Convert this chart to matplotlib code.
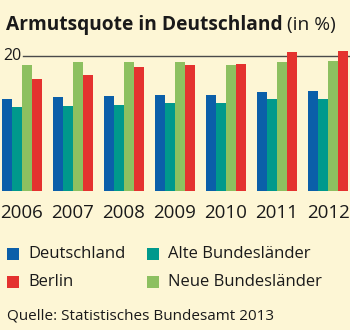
import numpy as np
import matplotlib.pyplot as plt
from matplotlib.patches import Rectangle

plt.rcParams['font.family'] = ['Open Sans', 'DejaVu Sans']

years = ['2006', '2007', '2008', '2009', '2010', '2011', '2012']
deutschland = [13.6, 13.9, 14.1, 14.2, 14.2, 14.7, 14.8]
alte = [12.4, 12.6, 12.7, 13.0, 13.0, 13.6, 13.6]
neue = [18.7, 19.1, 19.1, 19.1, 18.6, 19.1, 19.3]
berlin = [16.6, 17.1, 18.3, 18.6, 18.8, 20.5, 20.7]

colors = ['#0b5fa9', '#00998c', '#8dc060', '#e4322f']
bg = '#fdf6d5'
ink = '#1a1a1a'

fig = plt.figure(figsize=(3.5, 3.3), dpi=100, facecolor=bg)
ax = fig.add_axes([0, 0.4197, 1, 0.4524])
ax.set_facecolor(bg)

x = np.arange(len(years))
w = 0.196
series = [deutschland, alte, neue, berlin]
for k, (vals, c) in enumerate(zip(series, colors)):
    ax.bar(x + (k - 1.5) * w, vals, width=w, color=c, zorder=3, linewidth=0)

ax.axhline(20, xmin=0.066, xmax=1, color='#4a4a4a', lw=1.0, zorder=1)
ax.text(-0.36, 20, '20', fontsize=11.5, va='center', ha='left', color=ink)

ax.set_xlim(-0.431, 6.43)
ax.set_ylim(0, 22)
ax.set_xticks(x)
ax.set_xticklabels(years, fontsize=13.5, color=ink)
ax.tick_params(axis='x', length=0, pad=9)
ax.set_yticks([])
for s in ax.spines.values():
    s.set_visible(False)

# title
fig.text(6 / 350, 1 - 25 / 330, 'Armutsquote in Deutschland', fontsize=13.8,
         fontweight='bold', va='center', ha='left', color=ink)
fig.text(287 / 350, 1 - 25 / 330, '(in %)', fontsize=13.8,
         va='center', ha='left', color=ink)

# legend, two columns
legend_items = [(0, 0, 'Deutschland', colors[0]),
                (0, 1, 'Berlin', colors[3]),
                (1, 0, 'Alte Bundesländer', colors[1]),
                (1, 1, 'Neue Bundesländer', colors[2])]
col_x = [7, 147]
row_y = [254, 281.5]
for col, row, label, c in legend_items:
    sx = col_x[col]
    sy = row_y[row]
    fig.patches.append(Rectangle((sx / 350, 1 - (sy + 6) / 330), 12 / 350, 12 / 330,
                                 transform=fig.transFigure, color=c, lw=0))
    fig.text((sx + 21) / 350, 1 - sy / 330, label, fontsize=12,
             va='center', ha='left', color=ink)

fig.text(7 / 350, 1 - 316 / 330, 'Quelle: Statistisches Bundesamt 2013',
         fontsize=11, va='center', ha='left', color=ink)

fig.savefig('out.png', dpi=100, facecolor=bg)
